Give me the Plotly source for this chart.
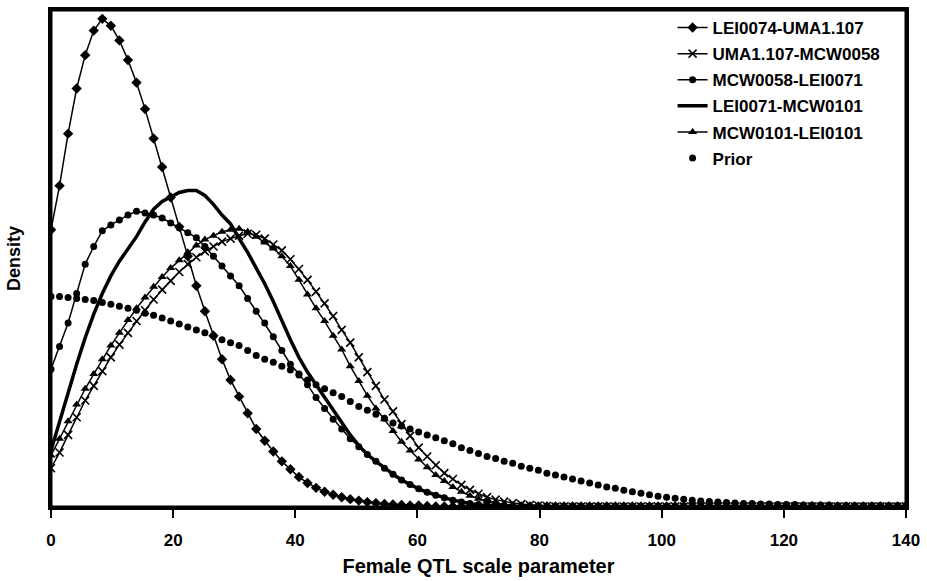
import plotly.graph_objects as go

# x grid (posterior evaluated every 1.4 units from 0 to 140)
x_vals = [round(1.4 * i, 1) for i in range(101)]

lei0074_uma1107 = [
    285, 330, 383, 429, 463, 488, 500, 493, 478, 458,
    435, 408, 378, 349, 318, 288, 258, 228, 202, 177,
    153, 132, 115, 98, 82, 70, 59, 49, 41, 33,
    27, 22, 18, 15, 12.5, 10.5, 9, 7.5, 6.5, 5.5,
    5, 4.5, 4, 4, 3.5, 3, 3, 3, 3, 3,
    3, 3, 3, 3, 3, 3, 3, 3, 3, 3,
    3, 3, 3, 3, 3, 3, 3, 3, 3, 3,
    3, 3, 3, 3, 3, 3, 3, 3, 3, 3,
    3, 3, 3, 3, 3, 3, 3, 3, 3, 3,
    3, 3, 3, 3, 3, 3, 3, 3, 3, 3,
    3,
]

uma1107_mcw0058 = [
    42, 58, 76, 94, 111, 126, 141, 155, 168, 180,
    192, 203, 214, 224, 233, 242, 250, 257, 263, 268,
    273, 276, 279, 281, 280, 276, 270, 264, 255, 245,
    234, 222, 210, 197, 183, 170, 155, 140, 126, 112,
    100, 87, 75, 63, 54, 45, 37, 31, 25, 20,
    16, 12.5, 10, 8, 6.5, 5.5, 4.5, 4, 3.5, 3,
    3, 3, 3, 3, 3, 3, 3, 3, 3, 3,
    3, 3, 3, 3, 3, 3, 3, 3, 3, 3,
    3, 3, 3, 3, 3, 3, 3, 3, 3, 3,
    3, 3, 3, 3, 3, 3, 3, 3, 3, 3,
    3,
]

mcw0058_lei0071 = [
    143, 166, 190, 220, 250, 268, 284, 290, 295, 300,
    304, 302, 300, 297, 292, 287, 282, 277, 268, 258,
    248, 238, 228, 215, 202, 190, 176, 162, 148, 138,
    127, 114, 103, 92, 82, 72, 64, 56, 49, 42,
    36, 30, 25.5, 21, 17.5, 14.5, 12, 9.5, 7.5, 6,
    5, 4.5, 4, 3.5, 3, 3, 3, 3, 3, 3,
    3, 3, 3, 3, 3, 3, 3, 3, 3, 3,
    3, 3, 3, 3, 3, 3, 3, 3, 3, 3,
    3, 3, 3, 3, 3, 3, 3, 3, 3, 3,
    3, 3, 3, 3, 3, 3, 3, 3, 3, 3,
    3,
]

lei0071_mcw0101 = [
    60, 90, 120, 148, 175, 199, 220, 238, 253, 266,
    278, 293, 306, 314, 319, 323, 325, 325, 320, 311,
    300, 291, 276, 262, 246, 230, 212, 192, 173, 155,
    140, 127, 114, 101, 88, 76, 65, 56, 49, 42,
    36, 30, 25, 21, 17.5, 14.5, 12, 9.5, 7.5, 6,
    4.5, 4, 3.5, 3, 3, 3, 3, 3, 3, 3,
    3, 3, 3, 3, 3, 3, 3, 3, 3, 3,
    3, 3, 3, 3, 3, 3, 3, 3, 3, 3,
    3, 3, 3, 3, 3, 3, 3, 3, 3, 3,
    3, 3, 3, 3, 3, 3, 3, 3, 3, 3,
    3,
]

mcw0101_lei0101 = [
    55, 72, 90, 107, 123, 138, 153, 167, 180, 193,
    205, 216, 227, 237, 246, 254, 262, 269, 275, 279,
    283, 285, 286, 283, 278, 272, 266, 258, 248, 234,
    219, 205, 192, 177, 163, 146, 131, 116, 103, 92,
    80, 69, 60, 51, 43, 35, 29, 23, 18, 14,
    11, 8.5, 6.5, 5, 4, 3.5, 3, 3, 3, 3,
    3, 3, 3, 3, 3, 3, 3, 3, 3, 3,
    3, 3, 3, 3, 3, 3, 3, 3, 3, 3,
    3, 3, 3, 3, 3, 3, 3, 3, 3, 3,
    3, 3, 3, 3, 3, 3, 3, 3, 3, 3,
    3,
]

prior = [
    217, 217, 216, 215, 214, 213, 211, 209, 207, 205,
    203, 200, 198, 195, 192, 189, 186, 183, 180, 177,
    173, 170, 167, 162, 157, 153, 150, 146, 142, 137,
    132, 127, 123, 119, 115, 110, 105, 101, 97, 93,
    88, 85, 82, 79, 76, 73, 70, 67, 63, 60,
    57, 54, 52, 49, 47, 44, 42, 40, 37, 35,
    33, 31, 29, 27, 25, 23, 21.5, 19.5, 18, 16.5,
    15, 13.5, 12.5, 11.5, 10.5, 9.5, 8.5, 8, 7.5, 7,
    6.5, 6, 6, 5.5, 5.5, 5, 5, 5, 4.5, 4.5,
    4.5, 4.5, 4, 4, 4, 4, 4, 4, 4, 4,
    4,
]

series_names = [
    "LEI0074-UMA1.107",
    "UMA1.107-MCW0058",
    "MCW0058-LEI0071",
    "LEI0071-MCW0101",
    "MCW0101-LEI0101",
    "Prior",
]

x_ticks = [0, 20, 40, 60, 80, 100, 120, 140]

FONT = "Liberation Sans, Arial, sans-serif"
BLACK = "#000000"

fig = go.Figure()

fig.add_trace(go.Scatter(
    x=x_vals, y=lei0074_uma1107, name=series_names[0], mode="lines+markers",
    line=dict(color=BLACK, width=1.5),
    marker=dict(symbol="diamond", size=8, color=BLACK),
    legendgroup="g1",
))
fig.add_trace(go.Scatter(
    x=x_vals, y=uma1107_mcw0058, name=series_names[1], mode="lines+markers",
    line=dict(color=BLACK, width=1.5),
    marker=dict(symbol="x-thin", size=8, color=BLACK, line=dict(color=BLACK, width=1.6)),
    legendgroup="g2",
))
fig.add_trace(go.Scatter(
    x=x_vals, y=mcw0058_lei0071, name=series_names[2], mode="lines+markers",
    line=dict(color=BLACK, width=1.5),
    marker=dict(symbol="circle", size=7, color=BLACK),
    legendgroup="g3",
))
fig.add_trace(go.Scatter(
    x=x_vals, y=lei0071_mcw0101, name=series_names[3], mode="lines",
    line=dict(color=BLACK, width=3.5),
    legendgroup="g4",
))
fig.add_trace(go.Scatter(
    x=x_vals, y=mcw0101_lei0101, name=series_names[4], mode="lines+markers",
    line=dict(color=BLACK, width=1.5),
    marker=dict(symbol="triangle-up", size=8, color=BLACK),
    legendgroup="g5",
))
fig.add_trace(go.Scatter(
    x=x_vals, y=prior, name=series_names[5], mode="markers",
    marker=dict(symbol="circle", size=7, color=BLACK),
    legendgroup="g6",
))

fig.update_layout(
    width=927, height=581,
    margin=dict(l=51, r=19, t=7, b=69),
    paper_bgcolor="white", plot_bgcolor="white",
    font=dict(family=FONT, color=BLACK, size=17),
    showlegend=True,
    legend=dict(
        x=0.727, xanchor="left", y=1.0, yanchor="top",
        bgcolor="rgba(255,255,255,0)", borderwidth=0,
        font=dict(family=FONT, size=17, color=BLACK, weight="bold"),
        tracegroupgap=1,
    ),
    shapes=[dict(
        type="rect", xref="paper", yref="paper", x0=0, x1=1, y0=0, y1=1,
        line=dict(color=BLACK, width=3), layer="above",
    )],
)

fig.update_xaxes(
    range=[0, 140], tickmode="array", tickvals=x_ticks,
    ticktext=[str(t) for t in x_ticks],
    ticks="outside", ticklen=8, tickwidth=2, tickcolor=BLACK,
    ticklabelstandoff=8,
    showline=True, linewidth=3, linecolor=BLACK, mirror=True,
    showgrid=False, zeroline=False,
    tickfont=dict(family=FONT, size=17, color=BLACK, weight="bold"),
    title=dict(text="Female QTL scale parameter", standoff=10,
               font=dict(family=FONT, size=20, color=BLACK, weight="bold")),
)
fig.update_yaxes(
    range=[2.5, 509], showticklabels=False, ticks="",
    showline=True, linewidth=3, linecolor=BLACK, mirror=True,
    showgrid=False, zeroline=False,
    title=dict(text="Density", standoff=23,
               font=dict(family=FONT, size=18, color=BLACK, weight="bold")),
)

fig.write_html(
    "out.html",
    config={"displayModeBar": False},
    post_script="document.body.style.margin='0px';document.body.style.overflow='hidden';",
)
